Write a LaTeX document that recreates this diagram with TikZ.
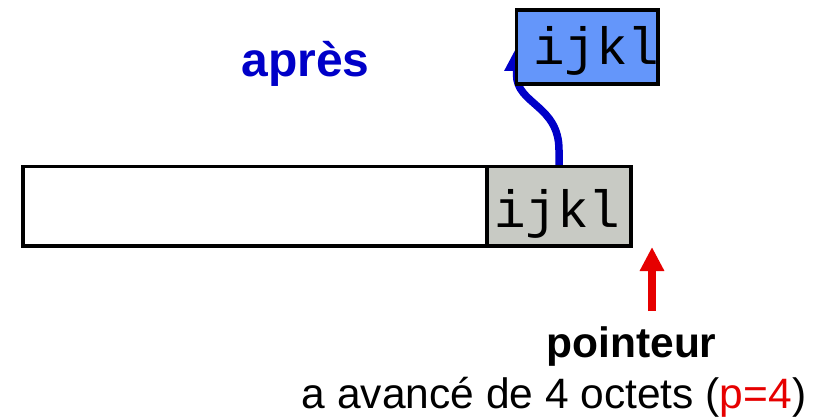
\documentclass[tikz,border=0pt]{standalone}
\usepackage{fontspec}
\setmainfont{Liberation Sans}
\setmonofont{Liberation Mono}
\usetikzlibrary{calc,arrows.meta,backgrounds}
\definecolor{cellgray}{RGB}{200,202,196}
\definecolor{copyblue}{RGB}{100,150,250}
\definecolor{linkblue}{RGB}{0,0,200}
\definecolor{ptrred}{RGB}{230,0,0}
\begin{document}
\begin{tikzpicture}[x=1pt, y=1pt, >={Triangle[length=24pt,width=23pt]},
		box/.style={draw, line width=3.5pt, outer sep=0pt, inner sep=0pt},
		code/.style={font=\ttfamily\fontsize{52.5}{56}\selectfont, anchor=base west, inner sep=0pt},
		txt/.style={font=\fontsize{42.5}{46}\selectfont, anchor=base, inner sep=0pt}]
	\useasboundingbox (0,0) rectangle (825,-417);

	\node[txt, font=\bfseries\fontsize{48}{52}\selectfont, text=linkblue] (apres) at (305.5,-77) {après};

	\node[box, minimum width=464pt, minimum height=79.5pt] (buf) at (255,-206.25) {};
	\node[box, fill=cellgray, minimum width=144pt, minimum height=79.5pt] (cell) at (559,-206.25) {};
	\node[code] (cellt) at (494,-227) {ijkl};

	\node[box, fill=copyblue, minimum width=141.5pt, minimum height=74pt] (copy) at (587.25,-47) {};
	\node[code] (copyt) at (533,-65) {ijkl};
	\begin{scope}[on background layer]
		\draw[->, line width=7.5pt, linkblue] (cell.north) -- ++(0,16.5)
			.. controls +(0,45) and ($(copy.west)+(0,-57.5)$) .. ($(copy.west)+(0,-27.5)$) -- (copy.west);
	\end{scope}

	\coordinate (ptrtail) at (652,-311);
	\coordinate (ptrhead) at (652,-247);
	\draw[->, line width=8pt, ptrred] (ptrtail) -- (ptrhead);

	\node[txt, font=\bfseries\fontsize{42.5}{46}\selectfont] (ptr) at (631.5,-357) {pointeur};
	\node[txt] (adv) at (554,-408) {a avancé de 4 octets (\textcolor{ptrred}{p=4})};
\end{tikzpicture}
\end{document}
